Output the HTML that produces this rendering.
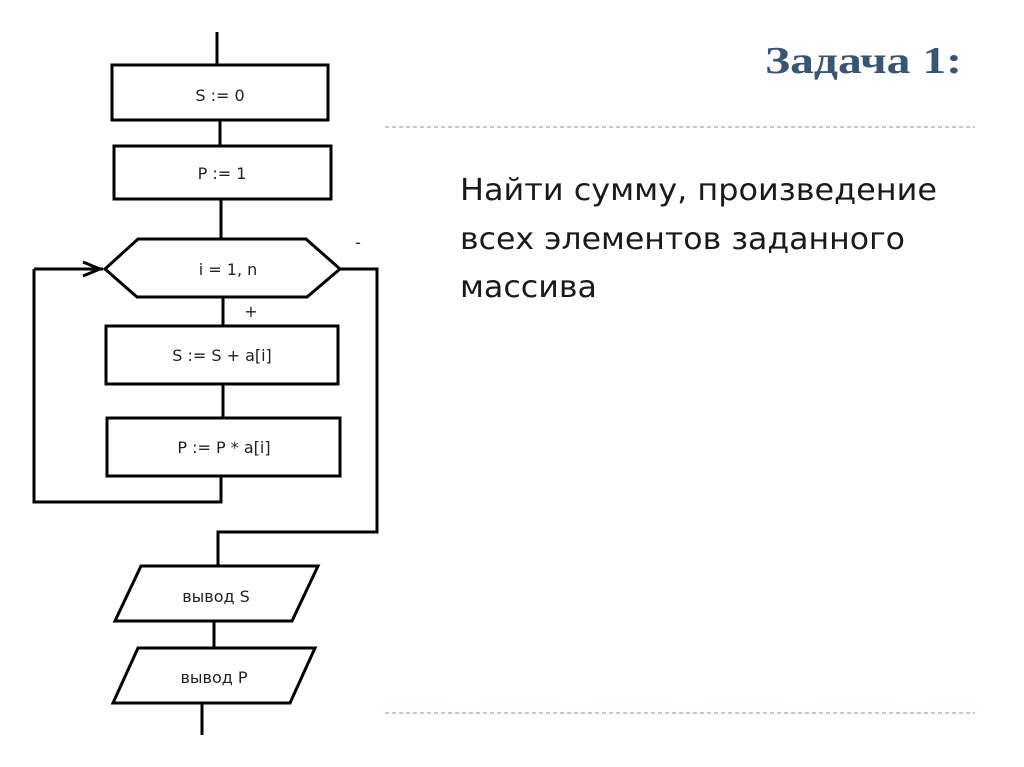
<!DOCTYPE html>
<html><head><meta charset="utf-8"><style>
html,body{margin:0;padding:0;background:#fff;}
svg{display:block;}
</style></head><body>
<svg width="1024" height="767" viewBox="0 0 1024 767" xmlns="http://www.w3.org/2000/svg">
<rect width="1024" height="767" fill="#fff"/>
<g stroke="#000" stroke-width="3" fill="none" stroke-linejoin="miter">
<line x1="217" y1="32" x2="217" y2="65"/>
<rect x="112" y="65" width="216" height="55"/>
<line x1="220" y1="120" x2="220" y2="146"/>
<rect x="114" y="146" width="217" height="53"/>
<line x1="221" y1="199" x2="221" y2="239"/>
<polygon points="105,269 138,239 306,239 340,269 307,297 137,297"/>
<polyline points="34,269 103,269"/>
<polyline points="83,262 100,269 83,276"/>
<polyline points="340,269 377,269 377,532 218,532 218,566"/>
<line x1="223" y1="297" x2="223" y2="326"/>
<rect x="106" y="326" width="232" height="58"/>
<line x1="223" y1="384" x2="223" y2="418"/>
<rect x="107" y="418" width="233" height="58"/>
<polyline points="221,476 221,502 34,502 34,269"/>
<polygon points="141,566 318,566 292,621 115,621"/>
<line x1="214" y1="621" x2="214" y2="648"/>
<polygon points="138,648 315,648 290,703 113,703"/>
<line x1="202" y1="703" x2="202" y2="735"/>
</g>
<g font-family="'DejaVu Sans','Liberation Sans',sans-serif" font-size="16" fill="#222" text-anchor="middle">
<text x="220" y="101">S := 0</text>
<text x="222" y="179">P := 1</text>
<text x="228" y="275">i = 1, n</text>
<text x="222" y="361">S := S + a[i]</text>
<text x="224" y="453">P := P * a[i]</text>
<text x="216" y="602">вывод S</text>
<text x="214" y="683">вывод P</text>
<text x="251" y="317">+</text>
<text x="358" y="248">-</text>
</g>
<text x="765" y="73" font-family="'Liberation Serif',serif" font-weight="bold" font-size="38" fill="#3a5573" textLength="197" lengthAdjust="spacingAndGlyphs">Задача 1:</text>
<line x1="385" y1="127" x2="975" y2="127" stroke="#a9bccb" stroke-width="1.5" stroke-dasharray="4,3"/>
<line x1="385" y1="713" x2="975" y2="713" stroke="#a9bccb" stroke-width="1.5" stroke-dasharray="4,3"/>
<g font-family="'DejaVu Sans','Liberation Sans',sans-serif" font-size="30" fill="#1a1a1a">
<text x="460" y="200" textLength="477" lengthAdjust="spacingAndGlyphs">Найти сумму, произведение</text>
<text x="460" y="249" textLength="445" lengthAdjust="spacingAndGlyphs">всех элементов заданного</text>
<text x="460" y="297" textLength="137" lengthAdjust="spacingAndGlyphs">массива</text>
</g>
</svg>
</body></html>
